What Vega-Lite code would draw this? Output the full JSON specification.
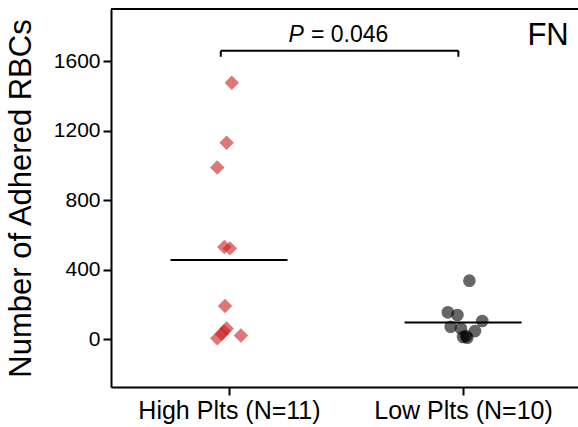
{
  "$schema": "https://vega.github.io/schema/vega-lite/v6.json",
  "width": 467,
  "height": 378,
  "autosize": {"type": "none"},
  "padding": {"left": 111, "top": 9, "right": 0, "bottom": 40},
  "background": "white",
  "config": {
    "view": {"stroke": null},
    "font": "Liberation Sans",
    "axis": {
      "domainColor": "black",
      "domainWidth": 2,
      "tickColor": "black",
      "tickWidth": 2,
      "tickSize": 8,
      "labelColor": "black",
      "labelFont": "Liberation Sans",
      "titleFont": "Liberation Sans",
      "titleColor": "black",
      "titleFontWeight": "normal",
      "grid": false
    }
  },
  "datasets": {
    "points": [
      {"group": "High Plts", "pos": 1.012, "rbc": 1475},
      {"group": "High Plts", "pos": 0.990, "rbc": 1130},
      {"group": "High Plts", "pos": 0.950, "rbc": 988},
      {"group": "High Plts", "pos": 0.980, "rbc": 530},
      {"group": "High Plts", "pos": 1.004, "rbc": 522},
      {"group": "High Plts", "pos": 0.983, "rbc": 190},
      {"group": "High Plts", "pos": 0.990, "rbc": 61},
      {"group": "High Plts", "pos": 0.979, "rbc": 45},
      {"group": "High Plts", "pos": 0.969, "rbc": 29},
      {"group": "High Plts", "pos": 0.950, "rbc": 4},
      {"group": "High Plts", "pos": 1.051, "rbc": 21},
      {"group": "Low Plts", "pos": 2.027, "rbc": 336},
      {"group": "Low Plts", "pos": 1.935, "rbc": 154},
      {"group": "Low Plts", "pos": 1.976, "rbc": 138},
      {"group": "Low Plts", "pos": 2.082, "rbc": 104},
      {"group": "Low Plts", "pos": 1.947, "rbc": 71},
      {"group": "Low Plts", "pos": 1.991, "rbc": 61},
      {"group": "Low Plts", "pos": 2.051, "rbc": 46},
      {"group": "Low Plts", "pos": 2.013, "rbc": 17},
      {"group": "Low Plts", "pos": 2.018, "rbc": 8},
      {"group": "Low Plts", "pos": 2.000, "rbc": 12}
    ],
    "means": [
      {"group": "High Plts", "from": 0.75, "to": 1.25, "mean": 455},
      {"group": "Low Plts", "from": 1.75, "to": 2.25, "mean": 96}
    ],
    "bracket": [
      {"x1": 0.965, "x2": 1.98, "y1": 1660, "y2": 1660},
      {"x1": 0.965, "x2": 0.965, "y1": 1625, "y2": 1660},
      {"x1": 1.98, "x2": 1.98, "y1": 1625, "y2": 1660}
    ],
    "labels": [
      {"label": "P", "lx": 1.32, "ly": 1709},
      {"label": "= 0.046", "lx": 1.32, "ly": 1709},
      {"label": "FN", "lx": 2.363, "ly": 1692},
      {"label": "top", "lx": 0.5, "ly": 1900}
    ]
  },
  "layer": [
    {
      "data": {"name": "points"},
      "transform": [{"filter": "datum.group === 'High Plts'"}],
      "mark": {"type": "point", "shape": "diamond", "filled": true, "size": 210, "color": "#c81e1e", "opacity": 0.6, "strokeWidth": 0},
      "encoding": {
        "x": {
          "field": "pos", "type": "quantitative",
          "scale": {"domain": [0.496, 2.491], "nice": false, "zero": false},
          "axis": {
            "values": [1, 2],
            "labelExpr": "datum.value === 1 ? 'High Plts (N=11)' : 'Low Plts (N=10)'",
            "labelFontSize": 25,
            "labelPadding": 3,
            "labelLimit": 0,
            "labelOverlap": false,
            "title": null
          }
        },
        "y": {
          "field": "rbc", "type": "quantitative",
          "scale": {"domain": [-276, 1900], "nice": false, "zero": false},
          "axis": {
            "values": [0, 400, 800, 1200, 1600],
            "format": "d",
            "labelFontSize": 21,
            "labelPadding": 3,
            "title": "Number of Adhered RBCs",
            "titleFontSize": 31,
            "titlePadding": 16
          }
        }
      }
    },
    {
      "data": {"name": "points"},
      "transform": [{"filter": "datum.group === 'Low Plts'"}],
      "mark": {"type": "point", "shape": "circle", "filled": true, "size": 160, "color": "black", "opacity": 0.6, "strokeWidth": 0},
      "encoding": {
        "x": {"field": "pos", "type": "quantitative", "scale": {"domain": [0.496, 2.491], "nice": false, "zero": false}},
        "y": {"field": "rbc", "type": "quantitative", "scale": {"domain": [-276, 1900], "nice": false, "zero": false}}
      }
    },
    {
      "data": {"name": "means"},
      "mark": {"type": "rule", "color": "black", "strokeWidth": 2},
      "encoding": {
        "x": {"field": "from", "type": "quantitative", "scale": {"domain": [0.496, 2.491], "nice": false, "zero": false}},
        "x2": {"field": "to"},
        "y": {"field": "mean", "type": "quantitative", "scale": {"domain": [-276, 1900], "nice": false, "zero": false}}
      }
    },
    {
      "data": {"name": "bracket"},
      "mark": {"type": "rule", "color": "black", "strokeWidth": 2},
      "encoding": {
        "x": {"field": "x1", "type": "quantitative", "scale": {"domain": [0.496, 2.491], "nice": false, "zero": false}},
        "x2": {"field": "x2"},
        "y": {"field": "y1", "type": "quantitative", "scale": {"domain": [-276, 1900], "nice": false, "zero": false}},
        "y2": {"field": "y2"}
      }
    },
    {
      "data": {"name": "labels"},
      "transform": [{"filter": "datum.label === 'top'"}],
      "mark": {"type": "rule", "color": "black", "strokeWidth": 2},
      "encoding": {
        "y": {"field": "ly", "type": "quantitative", "scale": {"domain": [-276, 1900], "nice": false, "zero": false}}
      }
    },
    {
      "data": {"name": "labels"},
      "transform": [{"filter": "datum.label === 'P'"}],
      "mark": {"type": "text", "fontStyle": "italic", "fontSize": 23, "align": "right", "baseline": "alphabetic", "color": "black", "font": "Liberation Sans"},
      "encoding": {
        "text": {"field": "label"},
        "x": {"field": "lx", "type": "quantitative", "scale": {"domain": [0.496, 2.491], "nice": false, "zero": false}},
        "y": {"field": "ly", "type": "quantitative", "scale": {"domain": [-276, 1900], "nice": false, "zero": false}}
      }
    },
    {
      "data": {"name": "labels"},
      "transform": [{"filter": "datum.label === '= 0.046'"}],
      "mark": {"type": "text", "fontSize": 23, "align": "left", "baseline": "alphabetic", "color": "black", "font": "Liberation Sans", "dx": 7},
      "encoding": {
        "text": {"field": "label"},
        "x": {"field": "lx", "type": "quantitative", "scale": {"domain": [0.496, 2.491], "nice": false, "zero": false}},
        "y": {"field": "ly", "type": "quantitative", "scale": {"domain": [-276, 1900], "nice": false, "zero": false}}
      }
    },
    {
      "data": {"name": "labels"},
      "transform": [{"filter": "datum.label === 'FN'"}],
      "mark": {"type": "text", "fontSize": 31, "align": "center", "baseline": "alphabetic", "color": "black", "font": "Liberation Sans"},
      "encoding": {
        "text": {"field": "label"},
        "x": {"field": "lx", "type": "quantitative", "scale": {"domain": [0.496, 2.491], "nice": false, "zero": false}},
        "y": {"field": "ly", "type": "quantitative", "scale": {"domain": [-276, 1900], "nice": false, "zero": false}}
      }
    }
  ]
}
